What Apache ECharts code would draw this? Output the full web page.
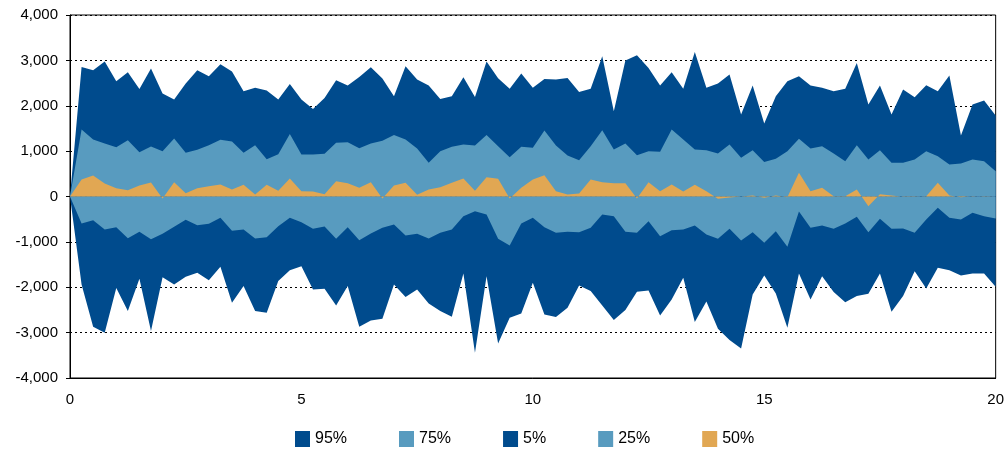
<!DOCTYPE html>
<html>
<head>
<meta charset="utf-8">
<script src="https://cdn.jsdelivr.net/npm/echarts@6/dist/echarts.min.js"></script>
<style>
  html, body { margin: 0; padding: 0; background: #fff; }
  #chart { width: 1007px; height: 452px; }
</style>
</head>
<body>
<div id="chart"></div>
<script>
// Horizon steps (0 to 20 in quarter steps)
const steps = [
  0, 0.25, 0.5, 0.75, 1, 1.25, 1.5, 1.75, 2, 2.25, 2.5, 2.75, 3, 3.25, 3.5, 3.75,
  4, 4.25, 4.5, 4.75, 5, 5.25, 5.5, 5.75, 6, 6.25, 6.5, 6.75, 7, 7.25, 7.5, 7.75,
  8, 8.25, 8.5, 8.75, 9, 9.25, 9.5, 9.75, 10, 10.25, 10.5, 10.75, 11, 11.25, 11.5, 11.75,
  12, 12.25, 12.5, 12.75, 13, 13.25, 13.5, 13.75, 14, 14.25, 14.5, 14.75, 15, 15.25, 15.5, 15.75,
  16, 16.25, 16.5, 16.75, 17, 17.25, 17.5, 17.75, 18, 18.25, 18.5, 18.75, 19, 19.25, 19.5, 19.75, 20
];

// Percentile bands
const p95 = [
  0, 2856, 2783, 2974, 2540, 2739, 2371, 2819, 2269, 2137, 2489, 2783, 2650, 2915, 2753, 2320,
  2394, 2335, 2137, 2480, 2137, 1931, 2173, 2562, 2445, 2636, 2849, 2599, 2210, 2871, 2577, 2445,
  2151, 2210, 2628, 2195, 2974, 2606, 2372, 2709, 2394, 2592, 2577, 2614, 2305, 2372, 3091, 1880,
  2996, 3113, 2834, 2445, 2739, 2372, 3187, 2394, 2489, 2687, 1806, 2445, 1608, 2210, 2540, 2650,
  2445, 2394, 2320, 2372, 2944, 2026, 2445, 1806, 2357, 2188, 2452, 2320, 2665, 1344, 2026, 2115, 1784
];
const p75 = [
  0, 1476, 1255, 1167, 1087, 1241, 977, 1101, 999, 1278, 962, 1028, 1131, 1248, 1211, 962,
  1131, 822, 932, 1380, 925, 925, 940, 1182, 1197, 1065, 1167, 1226, 1358, 1255, 1057, 742,
  999, 1094, 1145, 1123, 1358, 1109, 866, 1094, 1072, 1454, 1123, 903, 800, 1109, 1461, 1035,
  1167, 910, 999, 984, 1476, 1255, 1035, 1020, 947, 1145, 852, 1020, 763, 830, 999, 1270,
  1057, 1109, 947, 778, 1131, 815, 1020, 742, 742, 815, 999, 888, 705, 727, 815, 778, 558
];
const p5 = [
  0, -1938, -2871, -3003, -2019, -2526, -1813, -2966, -1777, -1938, -1769, -1681, -1843, -1549, -2342, -1975,
  -2526, -2562, -1865, -1623, -1535, -2048, -2034, -2401, -1975, -2871, -2731, -2695, -1938, -2217, -2048, -2357,
  -2526, -2650, -1696, -3443, -1755, -3238, -2672, -2577, -1902, -2599, -2658, -2452, -1960, -2085, -2401, -2724,
  -2504, -2100, -2070, -2621, -2269, -1791, -2768, -2313, -2915, -3164, -3348, -2159, -1740, -2137, -2893, -1696,
  -2269, -1755, -2107, -2328, -2195, -2144, -1696, -2540, -2195, -1645, -2026, -1571, -1623, -1740, -1696, -1696, -1990
];
const p25 = [
  0, -595, -521, -727, -675, -918, -778, -940, -822, -668, -514, -631, -602, -470, -756, -727,
  -925, -896, -653, -470, -565, -712, -661, -932, -675, -962, -815, -690, -617, -859, -822, -925,
  -800, -727, -433, -323, -396, -932, -1079, -595, -470, -675, -800, -778, -786, -690, -396, -433,
  -778, -800, -543, -874, -742, -727, -639, -837, -932, -712, -969, -786, -1021, -764, -1109, -330,
  -690, -639, -712, -595, -448, -786, -492, -712, -705, -800, -507, -250, -470, -507, -360, -433, -485
];
const p50 = [
  0, 374, 463, 286, 184, 140, 242, 308, -44, 316, 73, 184, 228, 264, 154, 257,
  44, 257, 125, 396, 117, 110, 51, 338, 294, 191, 316, -44, 242, 301, 37, 154,
  206, 301, 396, 125, 426, 389, -44, 191, 374, 470, 117, 44, 66, 374, 316, 294,
  294, -44, 316, 117, 264, 110, 257, 117, -51, -22, 0, 22, -29, 22, -15, 521,
  117, 191, 7, 7, 154, -213, 51, 22, -7, -7, 7, 301, 22, -15, 7, -7, -7
];

const yTicks = [-4000, -3000, -2000, -1000, 0, 1000, 2000, 3000, 4000];

const DARK = '#004b8d';
const LIGHT = '#589bbf';
const ORANGE = '#e1a753';
const FONT = '"Liberation Sans", Arial, sans-serif';

function pairs(vals) {
  return steps.map((s, i) => [s, vals[i]]);
}

function band(name, vals, color) {
  return {
    name: name,
    type: 'line',
    data: pairs(vals),
    symbol: 'none',
    showSymbol: false,
    lineStyle: { width: 0, color: color },
    itemStyle: { color: color },
    areaStyle: { color: color, opacity: 1, origin: 0 },
    emphasis: { disabled: true },
    silent: true,
    animation: false
  };
}

const chart = echarts.init(document.getElementById('chart'), null, { renderer: 'canvas' });

chart.setOption({
  animation: false,
  textStyle: { fontFamily: FONT, color: '#000' },
  grid: {
    left: 70, right: 11, top: 15, bottom: 74,
    show: true, borderColor: '#000', borderWidth: 1, backgroundColor: 'transparent'
  },
  legend: {
    bottom: 0,
    left: 290,
    icon: 'rect',
    itemWidth: 15,
    itemHeight: 16,
    itemGap: 52,
    textStyle: { fontFamily: FONT, fontSize: 16, color: '#000' },
    data: ['95%', '75%', '5%', '25%', '50%']
  },
  xAxis: {
    type: 'value',
    min: 0, max: 20, interval: 5,
    axisLine: { onZero: false, lineStyle: { color: '#000' } },
    axisTick: { show: false },
    splitLine: { show: false },
    axisLabel: { fontFamily: FONT, fontSize: 15, color: '#000', margin: 14 }
  },
  yAxis: {
    type: 'value',
    min: yTicks[0], max: yTicks[yTicks.length - 1], interval: 1000,
    axisLine: { show: true, lineStyle: { color: '#000' } },
    axisTick: { show: true, length: 4, lineStyle: { color: '#000' } },
    splitLine: { show: true, lineStyle: { color: '#000', type: [2, 3], width: 1 } },
    axisLabel: {
      fontFamily: FONT, fontSize: 15, color: '#000', margin: 12,
      formatter: v => v.toLocaleString('en-US')
    }
  },
  series: [
    band('95%', p95, DARK),
    band('75%', p75, LIGHT),
    band('5%', p5, DARK),
    band('25%', p25, LIGHT),
    band('50%', p50, ORANGE)
  ]
});
</script>
</body>
</html>
